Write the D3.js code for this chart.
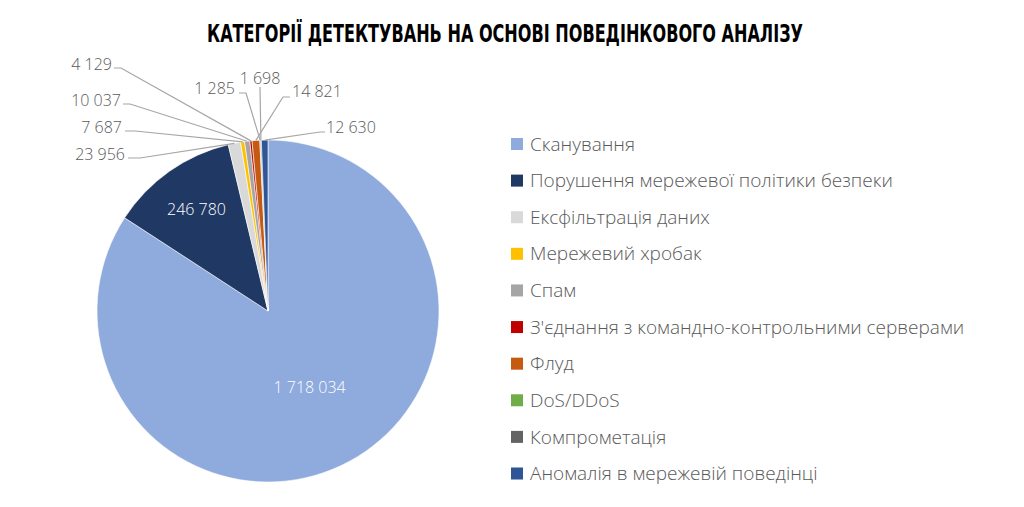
<!DOCTYPE html>
<html>
<head>
<meta charset="utf-8">
<script src="https://cdn.jsdelivr.net/npm/d3@7"></script>
<style>
  body { margin: 0; background: #ffffff; }
  svg { display: block; }
</style>
</head>
<body>
<div id="chart"></div>
<script>
'use strict';

const title = 'КАТЕГОРІЇ ДЕТЕКТУВАНЬ НА ОСНОВІ ПОВЕДІНКОВОГО АНАЛІЗУ';

const categories = [
  'Сканування',
  'Порушення мережевої політики безпеки',
  'Ексфільтрація даних',
  'Мережевий хробак',
  'Спам',
  'З\'єднання з командно-контрольними серверами',
  'Флуд',
  'DoS/DDoS',
  'Компрометація',
  'Аномалія в мережевій поведінці'
];

const values = [1718034, 246780, 23956, 7687, 10037, 4129, 14821, 1285, 1698, 12630];

const colors = ['#8faadc', '#203864', '#d9d9d9', '#ffc000', '#a5a5a5',
  '#c00000', '#c55a11', '#70ad47', '#636363', '#2f5597'];

// label layout (Excel places these by hand around the top of the pie)
const insideLabels = [
  { idx: 0, r: 0.51 },
  { idx: 1, r: 0.725 }
];
const outsideLabels = [
  { idx: 5, x: 112, y: 70, anchor: 'end', knee: [[114, 68], [121, 68]] },
  { idx: 4, x: 121, y: 106, anchor: 'end', knee: [[123, 104], [130, 104]] },
  { idx: 3, x: 122, y: 133, anchor: 'end', knee: [[125, 131], [135, 131]] },
  { idx: 2, x: 125, y: 160, anchor: 'end', knee: [[128, 158], [140, 158]] },
  { idx: 7, x: 235, y: 94, anchor: 'end', knee: [[239, 93], [246, 93]] },
  { idx: 8, x: 260, y: 84, anchor: 'middle', knee: [[260, 87]] },
  { idx: 6, x: 292, y: 97, anchor: 'start', knee: [[290, 97], [283, 97]] },
  { idx: 9, x: 326, y: 133, anchor: 'start', knee: [[325, 132], [320, 132]] }
];

const width = 1024;
const height = 507;
const cx = 268;
const cy = 311;
const radius = 171;

const fmt = function (v) {
  return d3.format(',')(v).replace(/,/g, ' ');
};

const svg = d3.select('#chart').append('svg')
  .attr('width', width)
  .attr('height', height);

svg.append('text')
  .text(title)
  .attr('x', 505)
  .attr('y', 42)
  .attr('text-anchor', 'middle')
  .attr('textLength', 596)
  .attr('lengthAdjust', 'spacingAndGlyphs')
  .style('font-family', '"Liberation Sans Narrow", "DejaVu Sans Condensed", sans-serif')
  .style('font-weight', 'bold')
  .style('font-size', '25px')
  .attr('fill', '#000000');

const pie = d3.pie()
  .sort(null)
  .value(function (d) { return d; });

const arcs = pie(values);

const arc = d3.arc()
  .innerRadius(0)
  .outerRadius(radius);

const chart = svg.append('g')
  .attr('transform', `translate(${cx}, ${cy})`);

chart.selectAll('path.slice')
  .data(arcs)
  .enter().append('path')
  .attr('class', 'slice')
  .attr('d', arc)
  .attr('fill', function (d, i) { return colors[i]; })
  .attr('stroke', '#ffffff')
  .attr('stroke-width', 0.6);

// values inside the two big slices
insideLabels.forEach(function (l) {
  const a = arcs[l.idx];
  const inner = d3.arc().innerRadius(radius * l.r).outerRadius(radius * l.r);
  const c = inner.centroid(a);
  chart.append('text')
    .text(fmt(values[l.idx]))
    .attr('x', c[0])
    .attr('y', c[1])
    .attr('dy', '0.35em')
    .attr('text-anchor', 'middle')
    .style('font-family', '"Open Sans", sans-serif')
    .style('font-weight', 300)
    .style('font-size', '16px')
    .attr('fill', '#ffffff');
});

// leader lines + outside values
const edge = d3.arc().innerRadius(radius).outerRadius(radius);
const line = d3.line();

outsideLabels.forEach(function (l) {
  const a = arcs[l.idx];
  const p = edge.centroid(a);
  const pts = l.knee.map(function (k) { return k; });
  pts.push([p[0] + cx, p[1] + cy]);
  svg.append('path')
    .attr('d', line(pts))
    .attr('fill', 'none')
    .attr('stroke', '#a6a6a6')
    .attr('stroke-width', 1.2);
  svg.append('text')
    .text(fmt(values[l.idx]))
    .attr('x', l.x)
    .attr('y', l.y)
    .attr('text-anchor', l.anchor)
    .style('font-family', '"Open Sans", sans-serif')
    .style('font-weight', 300)
    .style('font-size', '16px')
    .attr('fill', '#595959');
});

// legend
const legendY = d3.scalePoint()
  .domain(categories)
  .range([144, 473.5]);

const legend = svg.append('g')
  .attr('class', 'legend');

const item = legend.selectAll('g')
  .data(categories)
  .enter().append('g')
  .attr('transform', function (d) { return `translate(511, ${legendY(d)})`; });

item.append('rect')
  .attr('x', 0)
  .attr('y', -6)
  .attr('width', 12)
  .attr('height', 12)
  .attr('fill', function (d, i) { return colors[i]; });

item.append('text')
  .text(function (d) { return d; })
  .attr('x', 19)
  .attr('y', 0)
  .attr('dy', '0.35em')
  .style('font-family', '"Open Sans", sans-serif')
  .style('font-weight', 300)
  .style('font-size', '19px')
  .attr('fill', '#595959');
</script>
</body>
</html>
